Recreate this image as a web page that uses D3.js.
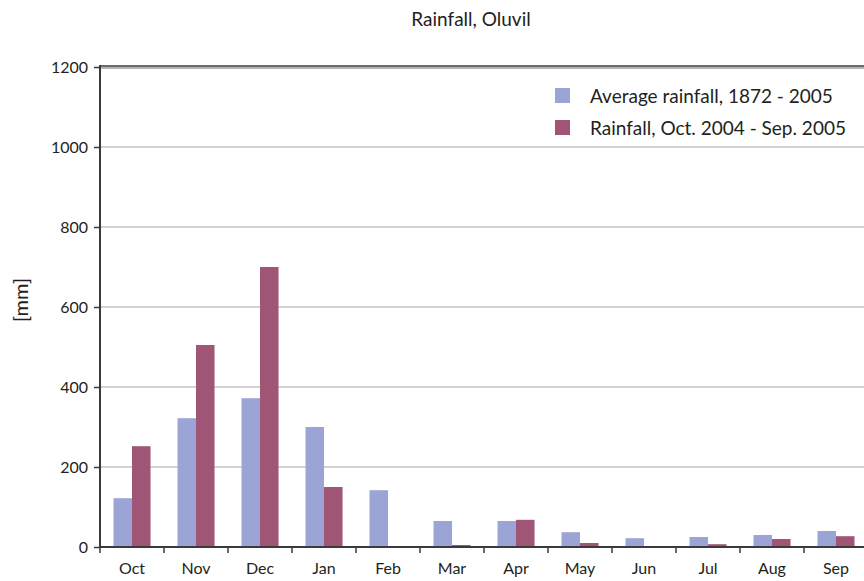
<!DOCTYPE html>
<html>
<head>
<meta charset="utf-8">
<script src="https://cdn.jsdelivr.net/npm/d3@7"></script>
<style>
  body { margin: 0; background: #fff; }
  text { font-family: Lato, "Open Sans", sans-serif; fill: #231f20; }
</style>
</head>
<body>
<div id="chart"></div>
<script>
// chart data
var months = ['Oct', 'Nov', 'Dec', 'Jan', 'Feb', 'Mar', 'Apr', 'May', 'Jun', 'Jul', 'Aug', 'Sep'];
var avgRain = [122, 322, 372, 300, 142, 65, 65, 37, 22, 25, 30, 40];
var rain0405 = [252, 505, 700, 150, 0, 5, 68, 10, 0, 7, 20, 27];
var yTicks = [0, 200, 400, 600, 800, 1000, 1200];
var seriesNames = ['Average rainfall, 1872 - 2005', 'Rainfall, Oct. 2004 - Sep. 2005'];
var colors = ['#9ca4d5', '#a05476'];

var width = 864, height = 581;
var plotL = 100, plotR = 868, plotT = 67, plotB = 547;

var svg = d3.select('#chart').append('svg')
    .attr('width', width).attr('height', height);

var x = d3.scaleBand().domain(months).range([plotL, plotR]).paddingInner(0).paddingOuter(0);
var y = d3.scaleLinear().domain([0, 1200]).range([plotB, plotT]);
var groupW = 37;
var x1 = d3.scaleBand().domain([0, 1]).range([0, groupW]);

// gridlines
svg.append('g').selectAll('line')
    .data(yTicks.filter(function(d) { return d > 0 && d < 1200; }))
    .enter().append('line')
    .attr('x1', plotL).attr('x2', width)
    .attr('y1', function(d) { return y(d); })
    .attr('y2', function(d) { return y(d); })
    .attr('stroke', '#c4c4c4').attr('stroke-width', 1.5);

// top border (double line)
svg.append('line').attr('x1', plotL).attr('x2', width).attr('y1', y(1200) - 1).attr('y2', y(1200) - 1)
    .attr('stroke', '#3a3a3a').attr('stroke-width', 1.5);
svg.append('line').attr('x1', plotL).attr('x2', width).attr('y1', y(1200) + 1).attr('y2', y(1200) + 1)
    .attr('stroke', '#9a9a9a').attr('stroke-width', 1.5);

// bars
var series = [avgRain, rain0405];
series.forEach(function(vals, si) {
    svg.append('g').selectAll('rect')
        .data(vals)
        .enter().append('rect')
        .attr('x', function(d, i) { return x(months[i]) + (x.bandwidth() - groupW) / 2 + x1(si); })
        .attr('width', x1.bandwidth())
        .attr('y', function(d) { return y(d); })
        .attr('height', function(d) { return plotB - y(d); })
        .attr('fill', colors[si]);
});

// y axis
var yAxis = svg.append('g').attr('transform', 'translate(' + plotL + ',0)')
    .call(d3.axisLeft(y).tickValues(yTicks).tickSize(6).tickPadding(6).tickFormat(d3.format('d')));
yAxis.select('.domain').attr('stroke', '#3a3a3a').attr('stroke-width', 2)
    .attr('d', 'M0,' + (plotT - 2) + 'V' + plotB);
yAxis.selectAll('.tick line').attr('stroke', '#3a3a3a').attr('stroke-width', 1.5);
yAxis.selectAll('.tick text').style('font-size', '16px').style('font-family', 'Lato').attr('fill', '#231f20');

// x axis
var xAxis = svg.append('g').attr('transform', 'translate(0,' + plotB + ')')
    .call(d3.axisBottom(x).tickSize(0).tickPadding(16));
xAxis.select('.domain').attr('stroke', '#3a3a3a').attr('stroke-width', 2)
    .attr('d', 'M' + plotL + ',0H' + width);
xAxis.selectAll('.tick text').style('font-size', '16px').style('font-family', 'Lato').attr('fill', '#231f20');
svg.append('g').selectAll('line')
    .data(months)
    .enter().append('line')
    .attr('x1', function(d) { return x(d); })
    .attr('x2', function(d) { return x(d); })
    .attr('y1', plotB).attr('y2', plotB + 6)
    .attr('stroke', '#3a3a3a').attr('stroke-width', 1.5);

// title
svg.append('text').attr('x', 471).attr('y', 26).attr('text-anchor', 'middle')
    .style('font-size', '19px').text('Rainfall, Oluvil');

// y label
svg.append('text').attr('transform', 'translate(28,300) rotate(-90)')
    .attr('text-anchor', 'middle').style('font-size', '20px').text('[mm]');

// legend
var legend = svg.append('g').selectAll('g')
    .data(seriesNames)
    .enter().append('g')
    .attr('transform', function(d, i) { return 'translate(555,' + (88 + i * 32) + ')'; });
legend.append('rect').attr('width', 15).attr('height', 15)
    .attr('fill', function(d, i) { return colors[i]; });
legend.append('text').attr('x', 35).attr('y', 15)
    .style('font-size', '19px').text(function(d) { return d; });
</script>
</body>
</html>
